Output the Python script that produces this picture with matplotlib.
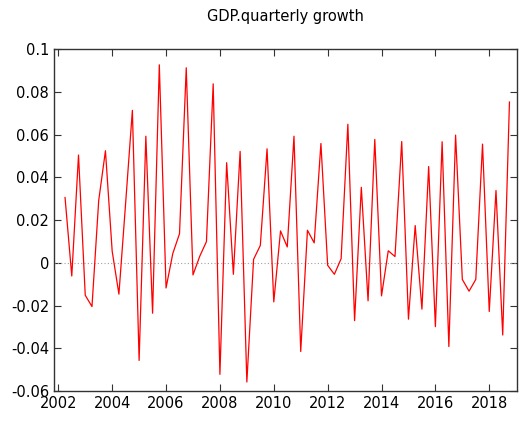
import matplotlib
matplotlib.use("Agg")
import matplotlib.pyplot as plt
import numpy as np

# quarterly growth, 2002Q2 .. 2018Q4
growth = [0.0305, -0.0062, 0.0504, -0.0152, -0.0205, 0.0291, 0.0524, 0.0054,
          -0.0147, 0.028, 0.0713, -0.0457, 0.0592, -0.0236, 0.0926, -0.0118,
          0.0043, 0.0136, 0.0912, -0.0057, 0.003, 0.0099, 0.0837, -0.0522,
          0.0468, -0.0054, 0.0521, -0.0558, 0.0016, 0.0081, 0.0533, -0.0183,
          0.0149, 0.0074, 0.0592, -0.0415, 0.0152, 0.0093, 0.0558, -0.0012,
          -0.0054, 0.0019, 0.0648, -0.0271, 0.0353, -0.0178, 0.0577, -0.0155,
          0.0056, 0.0029, 0.0567, -0.0264, 0.0174, -0.0217, 0.0450, -0.0299,
          0.0566, -0.0392, 0.0597, -0.0078, -0.0133, -0.0078, 0.0555, -0.0228,
          0.0338, -0.0338, 0.0752]
start = 2002.25
t = start + np.arange(len(growth)) * 0.25

xticks = [2002, 2004, 2006, 2008, 2010, 2012, 2014, 2016, 2018]
yticks = [-0.06, -0.04, -0.02, 0, 0.02, 0.04, 0.06, 0.08, 0.1]
ylabels = ["-0.06", "-0.04", "-0.02", "0", "0.02", "0.04", "0.06", "0.08", "0.1"]

fig = plt.figure(figsize=(5.21, 4.23), dpi=100)
ax = fig.add_axes([54/521, 1 - 391/423, (517-54)/521, (391-49)/423])

ax.axhline(0, color="#a0a0a0", lw=0.8, ls=(0, (1, 2)))
ax.plot(t, growth, color="#ff0000", lw=0.9)

ax.set_xlim(2001.84, 2019.03)
ax.set_ylim(-0.06, 0.1)
ax.set_xticks(xticks)
ax.set_yticks(yticks)
ax.set_yticklabels(ylabels)
ax.tick_params(direction="in", top=True, right=True, labelsize=10.5, length=5,
               color="#333333")
for s in ax.spines.values():
    s.set_linewidth(1.0)
    s.set_color("#333333")
ax.set_title("GDP.quarterly growth", fontsize=10.5, pad=20)

fig.savefig("out.png", dpi=100)
